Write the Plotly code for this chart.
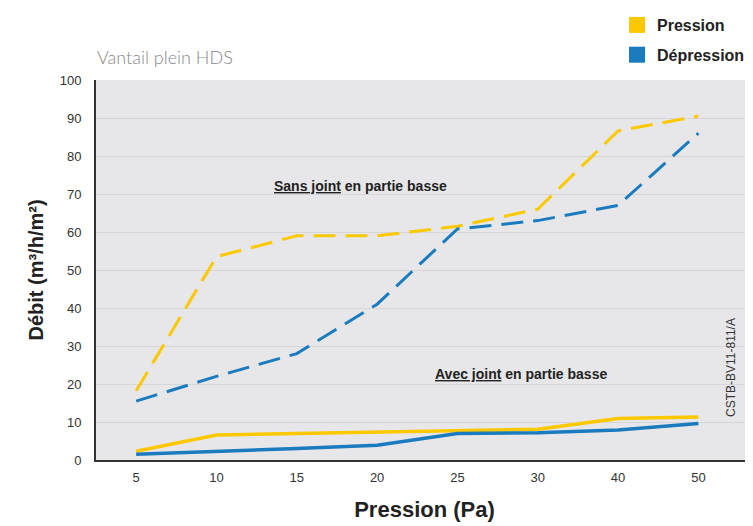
import plotly.graph_objects as go

pressures = ["5", "10", "15", "20", "25", "30", "40", "50"]
sans_pression = [18.2, 53.5, 59.0, 59.0, 61.5, 66.0, 86.6, 90.5]
sans_depression = [15.5, 22.0, 28.0, 41.0, 60.8, 63.0, 67.0, 86.0]
avec_pression = [2.3, 6.6, 7.0, 7.4, 7.7, 8.1, 10.9, 11.3]
avec_depression = [1.5, 2.2, 3.0, 3.9, 7.0, 7.2, 7.9, 9.6]
y_ticks = [0, 10, 20, 30, 40, 50, 60, 70, 80, 90, 100]

YELLOW = "#fcc800"
BLUE = "#1b7bbf"

fig = go.Figure()
fig.add_trace(go.Scatter(x=pressures, y=sans_pression, mode="lines",
                         line=dict(color=YELLOW, width=3, dash="22px,10px"), showlegend=False))
fig.add_trace(go.Scatter(x=pressures, y=sans_depression, mode="lines",
                         line=dict(color=BLUE, width=3, dash="22px,10px"), showlegend=False))
fig.add_trace(go.Scatter(x=pressures, y=avec_pression, mode="lines",
                         line=dict(color=YELLOW, width=3.5), showlegend=False))
fig.add_trace(go.Scatter(x=pressures, y=avec_depression, mode="lines",
                         line=dict(color=BLUE, width=3.5), showlegend=False))
# legend entries
fig.add_trace(go.Scatter(x=[None], y=[None], mode="markers", name="Pression", legendgroup="p",
                         marker=dict(symbol="square", size=20, color=YELLOW)))
fig.add_trace(go.Scatter(x=[None], y=[None], mode="markers", name="Dépression", legendgroup="d",
                         marker=dict(symbol="square", size=20, color=BLUE)))

bold = "Liberation Sans Narrow, Arial Narrow, Liberation Sans, Arial, sans-serif"
W, H = 745, 518

fig.update_layout(
    width=W, height=H,
    margin=dict(l=88, r=0, t=72, b=66, autoexpand=False),
    paper_bgcolor="white",
    plot_bgcolor="#e7e7e9",
    font=dict(family="Liberation Sans, Arial, sans-serif", color="#333333", size=13),
    title=dict(text="Vantail plein HDS", x=89/W, xanchor="left", xref="container",
               y=1-50/H, yanchor="middle", yref="container",
               font=dict(family="Lato, Noto Sans, sans-serif", size=18, color="#888888", weight=300)),
    showlegend=True,
    legend=dict(xref="container", yref="container", x=609/W, xanchor="left",
                y=1+4/H, yanchor="top", bgcolor="rgba(0,0,0,0)",
                font=dict(family="Liberation Sans, Arial, sans-serif", size=16, color="#222222", weight="bold"),
                itemsizing="trace", tracegroupgap=6),
    xaxis=dict(
        type="category", range=[-0.5, 7.68],
        showgrid=False, zeroline=False,
        showline=True, linecolor="#333333", linewidth=2,
        ticks="outside", ticklen=4, tickcolor="rgba(0,0,0,0)",
        tickfont=dict(size=13, color="#333333"),
        title=dict(text="Pression (Pa)", standoff=18,
                   font=dict(family=bold, size=22, color="#222222", weight="bold")),
    ),
    yaxis=dict(
        range=[0, 100], tickvals=y_ticks,
        showgrid=True, gridcolor="#d6d6da", gridwidth=1, zeroline=False,
        showline=True, linecolor="#333333", linewidth=2,
        ticks="outside", ticklen=10, tickcolor="rgba(0,0,0,0)",
        tickfont=dict(size=13, color="#333333"),
        title=dict(text="Débit (m³/h/m²)", standoff=11,
                   font=dict(family="Liberation Sans, Arial, sans-serif", size=20, color="#222222", weight="bold")),
    ),
    annotations=[
        dict(text="<u>Sans joint</u> en partie basse", xref="paper", yref="paper",
             x=(272-96)/657, y=(460-186)/380, xanchor="left", yanchor="middle", showarrow=False,
             font=dict(family="Liberation Sans, Arial, sans-serif", size=14, color="#222222", weight="bold")),
        dict(text="<u>Avec joint</u> en partie basse", xref="paper", yref="paper",
             x=(433-96)/657, y=(460-374)/380, xanchor="left", yanchor="middle", showarrow=False,
             font=dict(family="Liberation Sans, Arial, sans-serif", size=14, color="#222222", weight="bold")),
        dict(text="CSTB-BV11-811/A", xref="paper", yref="paper",
             x=(731-96)/657, y=(460-368)/380, xanchor="center", yanchor="middle", showarrow=False,
             textangle=-90,
             font=dict(family="Liberation Sans, Arial, sans-serif", size=12, color="#333333")),
    ],
)

fig.write_html("out.html")
